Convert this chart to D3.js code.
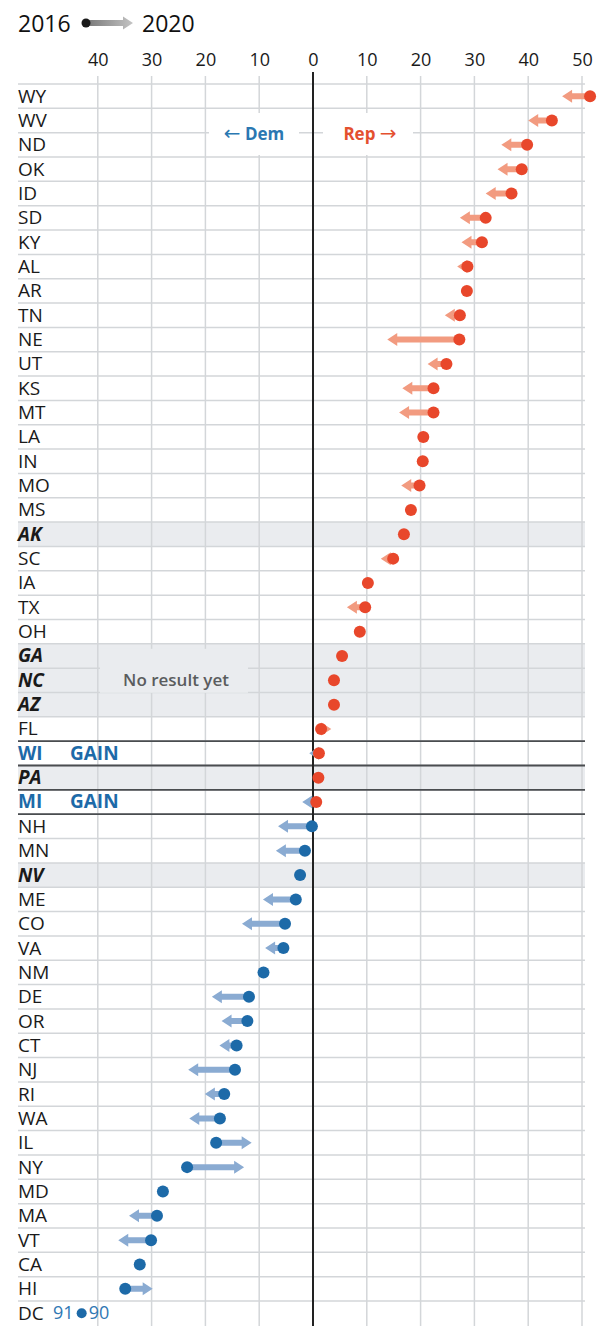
<!DOCTYPE html>
<html>
<head>
<meta charset="utf-8">
<script src="https://cdn.jsdelivr.net/npm/d3@7"></script>
<style>
  body { margin: 0; background: #fff; }
  svg { display: block; font-family: "Open Sans", sans-serif; }
</style>
</head>
<body>
<svg id="chart" width="606" height="1326"></svg>
<script>
// two-party margin, positive = Republican lead
const states = ["WY","WV","ND","OK","ID","SD","KY","AL","AR","TN","NE","UT","KS","MT","LA","IN","MO","MS","AK","SC","IA","TX","OH","GA","NC","AZ","FL","WI","PA","MI","NH","MN","NV","ME","CO","VA","NM","DE","OR","CT","NJ","RI","WA","IL","NY","MD","MA","VT","CA","HI","DC"]
const margin2016 = [51.5,44.4,39.8,38.8,36.9,32.1,31.4,28.7,28.6,27.3,27.2,24.8,22.4,22.4,20.5,20.4,19.8,18.2,16.9,14.9,10.2,9.7,8.7,5.4,3.9,3.9,1.5,1.1,1.0,0.6,-0.2,-1.5,-2.4,-3.2,-5.2,-5.5,-9.2,-11.9,-12.2,-14.2,-14.5,-16.5,-17.3,-18.0,-23.4,-27.9,-29.0,-30.1,-32.2,-34.9,-91]
const margin2020 = [46.3,40.0,35.0,34.3,32.1,27.3,27.6,26.8,28.2,24.5,13.8,21.3,16.6,16.0,19.8,20.2,16.4,17.8,null,12.6,9.5,6.3,8.2,null,null,null,3.4,-0.7,null,-2.0,-6.5,-6.9,null,-9.3,-13.2,-8.9,-9.0,-18.8,-17.0,-17.4,-23.2,-20.1,-23.0,-11.4,-12.8,-27.5,-34.2,-36.2,-31.8,-29.8,-90]
const uncalled = ["AK","GA","NC","AZ","PA","NV"]
const gains = ["WI","MI"]
const ticks = [-40,-30,-20,-10,0,10,20,30,40,50]

const RED = "#e8472b", BLUE = "#1d6aa8"
const RED_ARROW = "#f29b80", BLUE_ARROW = "#8aabd2"
const GRID = "#d3d6d9", SHADE = "#eaecef"

function visualize() {
  let svg = d3.select("#chart")
  let x = d3.scaleLinear().domain([-40, 50]).range([97.8, 582])
  let y = d3.scaleBand().domain(states).range([84, 84 + 24.34 * states.length])
  let left = 18, right = 585
  let clampMin = -43
  let cy = s => y(s) + y.bandwidth() / 2

  let rows = states.map((s, i) => ({
    state: s, a: margin2016[i], b: margin2020[i],
    uncalled: uncalled.includes(s), gain: gains.includes(s)
  }))

  // shaded rows for uncalled states
  svg.append("g").selectAll("rect")
    .data(rows.filter(d => d.uncalled)).enter()
    .append("rect")
    .attr("x", left).attr("width", right - left)
    .attr("y", d => y(d.state)).attr("height", y.bandwidth())
    .attr("fill", SHADE)

  // row lines
  svg.append("g").selectAll("line")
    .data(states).enter()
    .append("line")
    .attr("x1", left).attr("x2", right)
    .attr("y1", d => y(d)).attr("y2", d => y(d))
    .attr("stroke", GRID).attr("stroke-width", 1.5)

  // vertical grid
  svg.append("g").selectAll("line")
    .data(ticks.filter(t => t !== 0)).enter()
    .append("line")
    .attr("x1", d => x(d)).attr("x2", d => x(d))
    .attr("y1", 76).attr("y2", 1326)
    .attr("stroke", GRID).attr("stroke-width", 1.5)

  // dark separators round WI, PA, MI
  let firstDark = states.indexOf("WI")
  let darkYs = d3.range(firstDark, firstDark + 4).map(i => y.range()[0] + i * y.step())
  svg.append("g").selectAll("line")
    .data(darkYs).enter()
    .append("line")
    .attr("x1", left).attr("x2", right)
    .attr("y1", d => d).attr("y2", d => d)
    .attr("stroke", "#4a4d50").attr("stroke-width", 1.8)

  // label boxes that hide the grid
  let dem = svg.append("g")
  dem.append("rect").attr("x", 209).attr("y", 113).attr("width", 90).attr("height", 42).attr("fill", "#fff")
  let demText = dem.append("text").attr("x", 254).attr("y", 140).attr("text-anchor", "middle")
    .attr("font-size", 17).attr("font-weight", 700).attr("fill", "#2a78b2")
  demText.append("tspan").attr("font-family", "DejaVu Sans").attr("font-size", 20).attr("font-weight", 400).text("←")
  demText.append("tspan").text(" Dem")
  let rep = svg.append("g")
  rep.append("rect").attr("x", 323).attr("y", 113).attr("width", 90).attr("height", 42).attr("fill", "#fff")
  let repText = rep.append("text").attr("x", 370).attr("y", 140).attr("text-anchor", "middle")
    .attr("font-size", 17).attr("font-weight", 700).attr("fill", "#e4502f")
  repText.append("tspan").text("Rep ")
  repText.append("tspan").attr("font-family", "DejaVu Sans").attr("font-size", 20).attr("font-weight", 400).text("→")

  svg.append("rect").attr("x", 100).attr("y", y("GA") + 5).attr("width", 148).attr("height", 44).attr("fill", SHADE)
  svg.append("text").attr("x", 176).attr("y", cy("NC") + 6).attr("text-anchor", "middle")
    .attr("font-size", 17).attr("font-weight", 600).attr("fill", "#5a5c5e").text("No result yet")

  // zero line
  svg.append("line")
    .attr("x1", x(0)).attr("x2", x(0)).attr("y1", 72).attr("y2", 1326)
    .attr("stroke", "#222").attr("stroke-width", 2)

  // axis labels
  let axis = d3.axisTop(x).tickValues(ticks).tickFormat(d => Math.abs(d)).tickSize(0).tickPadding(0)
  let ax = svg.append("g").attr("transform", "translate(0,66)").call(axis)
  ax.select(".domain").remove()
  ax.selectAll("text").attr("font-size", 18).attr("font-family", "Open Sans").attr("fill", "#1a1a1a")

  // state labels
  svg.append("g").selectAll("text")
    .data(rows).enter()
    .append("text")
    .attr("x", left).attr("y", d => cy(d.state))
    .attr("dy", "0.34em")
    .attr("font-size", 19)
    .attr("font-style", d => d.uncalled ? "italic" : "normal")
    .attr("font-weight", d => d.uncalled || d.gain ? 700 : 400)
    .attr("fill", d => d.gain ? BLUE : "#1a1a1a")
    .text(d => d.state)

  svg.append("g").selectAll("text")
    .data(rows.filter(d => d.gain)).enter()
    .append("text")
    .attr("x", 70).attr("y", d => cy(d.state))
    .attr("dy", "0.34em")
    .attr("font-size", 19).attr("font-weight", 700).attr("fill", BLUE)
    .text("GAIN")

  // arrows
  function arrowPath(x0, x1, yc) {
    let dir = Math.sign(x1 - x0)
    let head = Math.min(10, Math.abs(x1 - x0))
    let hb = x1 - dir * head
    return `M${x0},${yc - 3}L${hb},${yc - 3}L${hb},${yc - 6.5}L${x1},${yc}L${hb},${yc + 6.5}L${hb},${yc + 3}L${x0},${yc + 3}Z`
  }
  let onScale = rows.filter(d => d.a >= clampMin)
  svg.append("g").selectAll("path")
    .data(onScale.filter(d => d.b !== null && d.b !== d.a)).enter()
    .append("path")
    .attr("d", d => arrowPath(x(d.a), x(d.b), cy(d.state)))
    .attr("fill", d => d.b > 0 ? RED_ARROW : BLUE_ARROW)

  svg.append("g").selectAll("circle")
    .data(onScale).enter()
    .append("circle")
    .attr("cx", d => x(d.a)).attr("cy", d => cy(d.state))
    .attr("r", 6)
    .attr("fill", d => d.a > 0 ? RED : BLUE)

  // off-scale row (DC)
  let off = rows.filter(d => d.a < clampMin)
  let og = svg.append("g").selectAll("g").data(off).enter().append("g")
    .attr("transform", d => `translate(${x(clampMin)},${cy(d.state)})`)
  og.append("circle").attr("r", 5).attr("fill", BLUE)
  og.append("text").attr("x", -8).attr("dy", "0.34em").attr("text-anchor", "end")
    .attr("font-size", 18).attr("fill", "#2f78b4").text(d => Math.abs(d.a))
  og.append("text").attr("x", 7).attr("dy", "0.34em")
    .attr("font-size", 18).attr("fill", "#2f78b4").text(d => Math.abs(d.b))

  // legend
  let lg = svg.append("g")
  lg.append("text").attr("x", 18).attr("y", 32).attr("font-size", 23).attr("font-weight", 500).attr("fill", "#111").text("2016")
  let grad = svg.append("defs").append("linearGradient").attr("id", "lgGrad")
  grad.append("stop").attr("offset", "0%").attr("stop-color", "#777")
  grad.append("stop").attr("offset", "100%").attr("stop-color", "#c4c4c4")
  lg.append("path").attr("d", arrowPath(86, 133, 23)).attr("fill", "url(#lgGrad)")
  lg.append("circle").attr("cx", 86).attr("cy", 23).attr("r", 4.5).attr("fill", "#1a1a1a")
  lg.append("text").attr("x", 142).attr("y", 32).attr("font-size", 23).attr("font-weight", 500).attr("fill", "#111").text("2020")
}

visualize()
</script>
</body>
</html>
